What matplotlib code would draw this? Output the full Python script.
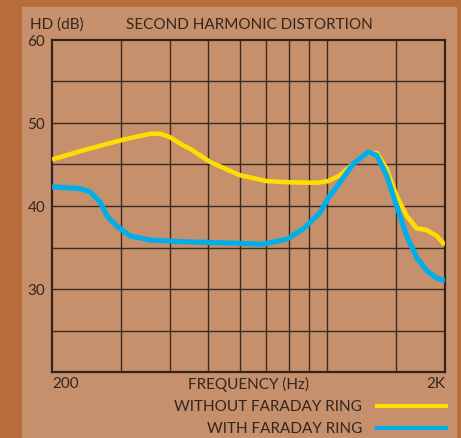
import matplotlib.pyplot as plt
from matplotlib.patches import Rectangle
from matplotlib.lines import Line2D

plt.rcParams['font.family'] = ['Lato', 'DejaVu Sans']

# values (Hz, dB)
without_freq = [200, 240, 304, 355, 377, 399, 431, 449, 505, 602, 704, 807, 943, 1010, 1081, 1169, 1264, 1341, 1421, 1507, 1598, 1694, 1797, 1905, 2000]
without_ring = [45.6, 46.7, 48.0, 48.7, 48.7, 48.3, 47.3, 46.9, 45.3, 43.7, 43.0, 42.85, 42.8, 43.0, 43.7, 45.1, 46.3, 46.4, 44.5, 41.2, 38.8, 37.3, 37.1, 36.4, 35.3]

with_freq = [200, 236, 250, 265, 276, 292, 316, 355, 431, 602, 689, 791, 870, 962, 1010, 1060, 1169, 1276, 1341, 1421, 1507, 1598, 1694, 1797, 1905, 2000]
with_ring = [42.3, 42.1, 41.7, 40.5, 38.8, 37.6, 36.4, 35.9, 35.7, 35.5, 35.4, 36.0, 37.2, 39.2, 41.0, 42.3, 45.1, 46.5, 46.1, 43.7, 40.0, 36.4, 33.8, 32.2, 31.3, 31.0]

grid_freq = [300, 400, 500, 600, 700, 800, 900, 1000, 1500]
y_ticks = [30, 40, 50, 60]

text_col = '#33261e'
yellow = '#ffdd00'
blue = '#00aeea'
fs = 11

fig = plt.figure(figsize=(4.61, 4.39), dpi=100)
fig.patch.set_facecolor('#b86c3c')

# lighter panel behind the chart
bg = fig.add_axes([0, 0, 1, 1], zorder=-1)
bg.set_xlim(0, 461)
bg.set_ylim(439, 0)
bg.axis('off')
bg.add_patch(Rectangle((22, 8), 434, 431, color='#c6906c'))

ax = fig.add_axes([52 / 461, 1 - 373 / 439, 393 / 461, 332 / 439])
ax.set_facecolor('none')
ax.set_xscale('log')
ax.set_xlim(200, 2000)
ax.set_ylim(20, 60)

for f in grid_freq:
    ax.axvline(f, color='#3a2b22', lw=1.0, zorder=1)
for v in range(25, 60, 5):
    ax.axhline(v, color='#3a2b22', lw=1.0, zorder=1)
for s in ax.spines.values():
    s.set_color('#2e2420')
    s.set_linewidth(1.6)

ax.plot(without_freq, without_ring, color=yellow, lw=3.3, solid_capstyle='butt',
        solid_joinstyle='round', zorder=3)
ax.plot(with_freq, with_ring, color=blue, lw=3.7, solid_capstyle='butt',
        solid_joinstyle='round', zorder=4)

ax.set_xticks([])
ax.set_xticks([], minor=True)
ax.set_yticks(y_ticks)
ax.set_yticklabels([str(t) for t in y_ticks], fontsize=fs, color=text_col)
ax.tick_params(axis='y', length=0, pad=5)

fig.text(30 / 461, 1 - 25 / 439, 'HD (dB)', fontsize=fs, color=text_col, va='center', ha='left')
fig.text(249 / 461, 1 - 25 / 439, 'SECOND HARMONIC DISTORTION', fontsize=fs, color=text_col, va='center', ha='center')
fig.text(52 / 461, 1 - 384 / 439, '200', fontsize=fs, color=text_col, va='center', ha='left')
fig.text(445 / 461, 1 - 384 / 439, '2K', fontsize=fs, color=text_col, va='center', ha='right')
fig.text(249 / 461, 1 - 384 / 439, 'FREQUENCY (Hz)', fontsize=fs, color=text_col, va='center', ha='center')

fig.text(362 / 461, 1 - 407 / 439, 'WITHOUT FARADAY RING', fontsize=fs, color=text_col, va='center', ha='right')
fig.text(362 / 461, 1 - 429 / 439, 'WITH FARADAY RING', fontsize=fs, color=text_col, va='center', ha='right')
fig.lines.append(Line2D([377 / 461, 446 / 461], [1 - 407 / 439] * 2, transform=fig.transFigure, color=yellow, lw=3))
fig.lines.append(Line2D([377 / 461, 446 / 461], [1 - 429 / 439] * 2, transform=fig.transFigure, color=blue, lw=3))

fig.savefig('out.png', dpi=100)
